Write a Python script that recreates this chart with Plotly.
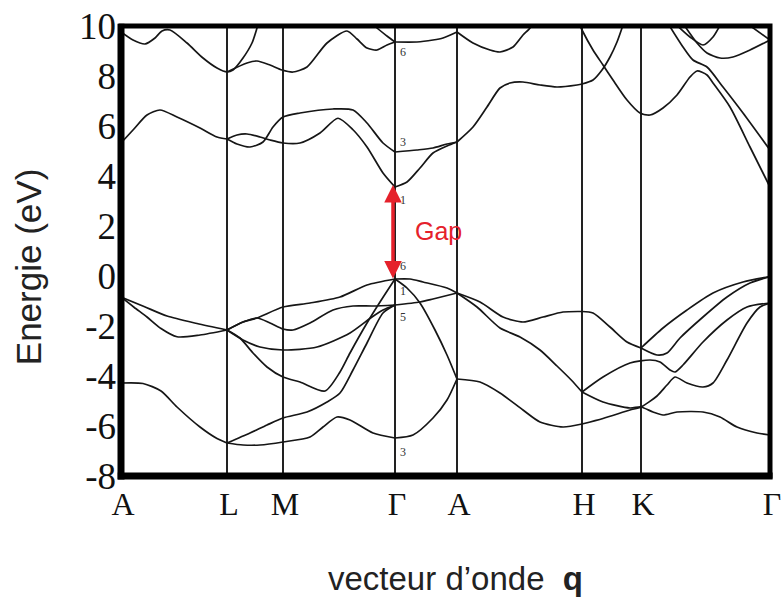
import plotly.graph_objects as go

# symmetry points along the path (q in arbitrary path units)
kpt_q = [0, 106, 162, 274, 336, 461, 520, 649]
kpt_labels = ["A", "L", "M", "Γ", "A", "H", "K", "Γ"]

energy_ticks = [-8, -6, -4, -2, 0, 2, 4, 6, 8, 10]

# ---- valence bands ----
q_al_v1 = [0, 23, 46, 76, 106]
e_al_v1 = [-0.84, -1.22, -1.6, -1.9, -2.16]
q_al_v2 = [0, 13, 26, 40, 56, 79, 106]
e_al_v2 = [-0.84, -1.25, -1.64, -2.1, -2.43, -2.36, -2.16]
q_al_v3 = [0, 22, 40, 56, 79, 96, 106]
e_al_v3 = [-4.28, -4.3, -4.6, -5.24, -6.04, -6.5, -6.68]

q_lg_v1 = [106, 122, 136, 162, 189, 219, 246, 274]
e_lg_v1 = [-2.16, -1.84, -1.68, -1.24, -1.08, -0.84, -0.36, -0.12]
q_lg_v2 = [106, 122, 136, 149, 162, 172, 189, 212, 232, 252, 274]
e_lg_v2 = [-2.16, -1.84, -1.68, -1.88, -2.12, -2.16, -1.88, -1.36, -1.2, -1.2, -1.16]
q_lg_v3 = [106, 122, 139, 162, 196, 229, 251, 262, 274]
e_lg_v3 = [-2.16, -2.56, -2.84, -2.96, -2.84, -2.28, -1.64, -1.36, -1.16]
q_lg_v4 = [106, 119, 132, 146, 162, 179, 204, 219, 229, 246, 259, 274]
e_lg_v4 = [-2.16, -2.48, -3.08, -3.64, -4.04, -4.24, -4.6, -3.84, -3.08, -1.88, -1.04, -0.12]
q_lg_v5 = [106, 129, 146, 162, 186, 206, 219, 232, 246, 262, 274]
e_lg_v5 = [-6.68, -6.28, -5.96, -5.68, -5.44, -5.04, -4.68, -3.76, -2.68, -1.48, -1.16]
q_lg_v6 = [106, 122, 139, 162, 189, 202, 216, 229, 252, 274]
e_lg_v6 = [-6.68, -6.76, -6.76, -6.64, -6.44, -6.04, -5.64, -5.76, -6.28, -6.48]

q_ga_v1 = [274, 289, 302, 326, 336]
e_ga_v1 = [-0.12, -0.12, -0.24, -0.48, -0.68]
q_ga_v2 = [274, 299, 312, 336]
e_ga_v2 = [-1.16, -1.04, -0.92, -0.68]
q_ga_v3 = [274, 286, 299, 314, 326, 336]
e_ga_v3 = [-0.12, -0.48, -1.08, -2.16, -3.16, -4.12]
q_ga_v4 = [274, 292, 312, 326, 336]
e_ga_v4 = [-6.48, -6.36, -5.68, -4.96, -4.12]

q_ah_v1 = [336, 359, 382, 402, 422, 442, 461]
e_ah_v1 = [-0.68, -1.04, -1.64, -1.84, -1.64, -1.44, -1.42]
q_ah_v2 = [336, 356, 379, 399, 419, 436, 450, 461]
e_ah_v2 = [-0.68, -1.24, -2.08, -2.44, -2.96, -3.6, -4.15, -4.64]
q_ah_v3 = [336, 359, 379, 402, 419, 442, 461]
e_ah_v3 = [-4.12, -4.24, -4.68, -5.36, -5.84, -6.04, -5.92]

q_hk_v1 = [461, 472, 489, 506, 520]
e_hk_v1 = [-1.42, -1.48, -2.04, -2.64, -2.88]
q_kg_v1 = [520, 542, 566, 592, 622, 649]
e_kg_v1 = [-2.88, -2.08, -1.36, -0.68, -0.24, -0.02]
q_kg_v2 = [520, 536, 546, 559, 582, 606, 629, 649]
e_kg_v2 = [-2.88, -3.16, -3.08, -2.48, -1.64, -0.84, -0.28, -0.02]
q_hg_v2 = [461, 482, 509, 529, 539, 549, 554, 562, 582, 606, 626, 649]
e_hg_v2 = [-4.64, -4.04, -3.48, -3.36, -3.44, -3.76, -3.84, -3.56, -2.64, -1.76, -1.24, -1.08]
q_hg_v3 = [461, 482, 509, 520, 532, 542, 556, 582, 599, 616, 636, 649]
e_hg_v3 = [-4.64, -5.04, -5.28, -5.24, -5.44, -5.56, -5.44, -5.44, -5.64, -6.04, -6.28, -6.36]
q_hg_v4 = [461, 482, 509, 520, 536, 546, 554, 566, 582, 592, 606, 626, 639, 649]
e_hg_v4 = [-5.92, -5.7, -5.36, -5.24, -4.8, -4.36, -4.04, -4.28, -4.44, -4.28, -3.36, -1.88, -1.24, -1.08]

# ---- conduction bands ----
q_al_c1 = [0, 12, 26, 39, 56, 79, 96, 106]
e_al_c1 = [5.32, 5.84, 6.44, 6.64, 6.36, 5.92, 5.56, 5.48]
q_lg_c1 = [106, 116, 126, 139, 149, 162, 179, 199, 217, 232, 246, 262, 274]
e_lg_c1 = [5.48, 5.64, 5.68, 5.56, 5.44, 5.32, 5.32, 5.72, 6.31, 5.85, 5.16, 4.12, 3.56]
q_lg_c2 = [106, 116, 129, 142, 152, 162, 179, 212, 232, 246, 262, 274]
e_lg_c2 = [5.48, 5.28, 5.16, 5.36, 5.96, 6.36, 6.52, 6.68, 6.64, 6.12, 5.32, 4.96]
q_ga_c1 = [274, 286, 299, 312, 326, 336]
e_ga_c1 = [3.56, 3.76, 4.32, 4.92, 5.2, 5.36]
q_ga_c2 = [274, 296, 312, 326, 336]
e_ga_c2 = [4.96, 5.04, 5.12, 5.28, 5.36]
q_ah_c1 = [336, 352, 366, 379, 389, 402, 419, 436, 456, 461, 472, 481, 489, 496, 501, 504]
e_ah_c1 = [5.36, 5.96, 6.76, 7.52, 7.72, 7.76, 7.64, 7.56, 7.64, 7.68, 7.84, 8.24, 8.76, 9.36, 9.92, 10.3]
q_hg_c1 = [458, 461, 472, 482, 492, 506, 519, 529, 542, 556, 569, 576, 586, 592, 609, 629, 649]
e_hg_c1 = [10.1, 9.84, 9.04, 8.44, 7.84, 7.04, 6.52, 6.44, 6.72, 7.24, 7.96, 8.2, 8.04, 7.72, 6.76, 5.16, 3.56]
q_kg_c2 = [547, 562, 572, 586, 602, 622, 649]
e_kg_c2 = [10.1, 9.16, 8.64, 8.36, 7.56, 6.52, 5.04]
q_kg_c3 = [554, 569, 582, 592, 600]
e_kg_c3 = [10.1, 9.56, 9.24, 9.56, 10.1]
q_kg_c4 = [562, 576, 586, 599, 612, 629, 649]
e_kg_c4 = [10.1, 9.32, 8.92, 8.72, 8.76, 9.04, 9.44]
q_kg_c5 = [626, 649]
e_kg_c5 = [10.1, 9.44]

q_al_c3 = [0, 12, 24, 34, 41, 49, 66, 82, 96, 106, 112, 122, 131, 136, 138]
e_al_c3 = [9.76, 9.44, 9.28, 9.52, 9.8, 9.84, 9.32, 8.72, 8.32, 8.16, 8.24, 8.72, 9.32, 9.92, 10.2]
q_lg_c3 = [106, 126, 136, 149, 161, 172, 186, 206, 226, 236, 246, 256, 266, 274]
e_lg_c3 = [8.16, 8.52, 8.6, 8.44, 8.24, 8.16, 8.36, 9.32, 9.8, 9.48, 9.12, 9.04, 9.24, 9.36]
q_lg_c4 = [252, 256, 266, 274]
e_lg_c4 = [10.1, 9.92, 9.6, 9.36]
q_ga_c3 = [274, 296, 312, 322, 336]
e_ga_c3 = [9.36, 9.36, 9.44, 9.52, 9.76]
q_ah_c3 = [336, 352, 369, 379, 392, 402, 409, 412]
e_ah_c3 = [9.76, 9.32, 9.04, 8.96, 9.16, 9.64, 9.92, 10.2]

# gap arrow at Gamma and irreducible-representation labels
gap_q = 272
gap_top = 3.64
gap_bottom = -0.16
irrep_labels = ["6", "3", "1", "6", "1", "5", "3"]
irrep_e = [8.96, 5.36, 3.04, 0.4, -0.6, -1.64, -7.04]
irrep_q = 282

bands = [
    (q_al_v1, e_al_v1), (q_al_v2, e_al_v2), (q_al_v3, e_al_v3),
    (q_lg_v1, e_lg_v1), (q_lg_v2, e_lg_v2), (q_lg_v3, e_lg_v3),
    (q_lg_v4, e_lg_v4), (q_lg_v5, e_lg_v5), (q_lg_v6, e_lg_v6),
    (q_ga_v1, e_ga_v1), (q_ga_v2, e_ga_v2), (q_ga_v3, e_ga_v3), (q_ga_v4, e_ga_v4),
    (q_ah_v1, e_ah_v1), (q_ah_v2, e_ah_v2), (q_ah_v3, e_ah_v3),
    (q_hk_v1, e_hk_v1), (q_kg_v1, e_kg_v1), (q_kg_v2, e_kg_v2),
    (q_hg_v2, e_hg_v2), (q_hg_v3, e_hg_v3), (q_hg_v4, e_hg_v4),
    (q_al_c1, e_al_c1), (q_lg_c1, e_lg_c1), (q_lg_c2, e_lg_c2),
    (q_ga_c1, e_ga_c1), (q_ga_c2, e_ga_c2), (q_ah_c1, e_ah_c1),
    (q_hg_c1, e_hg_c1), (q_kg_c2, e_kg_c2), (q_kg_c3, e_kg_c3),
    (q_kg_c4, e_kg_c4), (q_kg_c5, e_kg_c5),
    (q_al_c3, e_al_c3), (q_lg_c3, e_lg_c3), (q_lg_c4, e_lg_c4),
    (q_ga_c3, e_ga_c3), (q_ah_c3, e_ah_c3),
]

SERIF = "Liberation Serif, Times New Roman, serif"
SANS = "Liberation Sans, Arial, sans-serif"
RED = "#e5212b"

fig = go.Figure()
for q, e in bands:
    fig.add_trace(go.Scatter(
        x=q, y=e, mode="lines",
        line=dict(color="#161616", width=1.7, shape="spline", smoothing=0.7),
        hoverinfo="skip", showlegend=False,
    ))

fig.update_layout(
    width=782, height=598,
    margin=dict(l=121, r=12, t=26, b=122, autoexpand=False),
    paper_bgcolor="white", plot_bgcolor="white",
    showlegend=False,
)
fig.update_xaxes(
    range=[kpt_q[0], kpt_q[-1]],
    tickvals=kpt_q, ticktext=kpt_labels,
    tickfont=dict(family=SERIF, size=32, color="#111"),
    ticks="", ticklabelshift=2, ticklabelstandoff=6,
    ticklabeloverflow="allow",
    showgrid=True, gridcolor="#222", gridwidth=1.5,
    zeroline=False, showline=False, automargin=False,
)
fig.update_yaxes(
    range=[-8, 10],
    tickvals=energy_ticks, ticktext=[str(v) for v in energy_ticks],
    tickfont=dict(family=SERIF, size=37, color="#111"),
    ticks="", ticklabelstandoff=4,
    showgrid=False, zeroline=False, showline=False, automargin=False,
)

# thick frame, heavier on the left and bottom
fig.add_shape(type="rect", xref="paper", yref="paper", x0=0, x1=1, y0=0, y1=1,
              line=dict(color="black", width=5), layer="above")
fig.add_shape(type="line", xref="paper", yref="paper", x0=0, x1=0, y0=-0.008, y1=1.005,
              line=dict(color="black", width=7), layer="above")
fig.add_shape(type="line", xref="paper", yref="paper", x0=-0.005, x1=1.004, y0=0, y1=0,
              line=dict(color="black", width=7), layer="above")

# gap arrow
fig.add_annotation(x=gap_q, y=gap_top, ax=gap_q, ay=gap_bottom, xref="x", yref="y",
                   axref="x", ayref="y", text="", showarrow=True,
                   arrowhead=2, startarrowhead=2, arrowside="end+start",
                   arrowsize=1, startarrowsize=1, arrowwidth=3.5, arrowcolor=RED)
fig.add_annotation(x=gap_q + 20, y=(gap_top + gap_bottom) / 2 + 0.05, xref="x", yref="y",
                   text="Gap", showarrow=False, xanchor="left",
                   font=dict(family=SANS, size=25, color=RED))

for lab, e in zip(irrep_labels, irrep_e):
    fig.add_annotation(x=irrep_q, y=e, xref="x", yref="y", text=lab, showarrow=False,
                       font=dict(family=SERIF, size=12, color="#333"))

# axis titles
fig.add_annotation(x=0, y=0.464, xref="paper", yref="paper", xshift=-93,
                   xanchor="center", yanchor="middle",
                   text="Energie (eV)", textangle=-90, showarrow=False,
                   font=dict(family=SANS, size=35, color="#222"))
fig.add_annotation(x=0.516, y=0, xref="paper", yref="paper", yshift=-102,
                   yanchor="middle",
                   text="vecteur d’onde  <b>q</b>", showarrow=False,
                   font=dict(family=SANS, size=33, color="#222"))

# drop the default page margin so the figure sits at the window origin
fig.write_html("out.html", config={"displayModeBar": False},
               post_script="document.body.style.margin='0';")
